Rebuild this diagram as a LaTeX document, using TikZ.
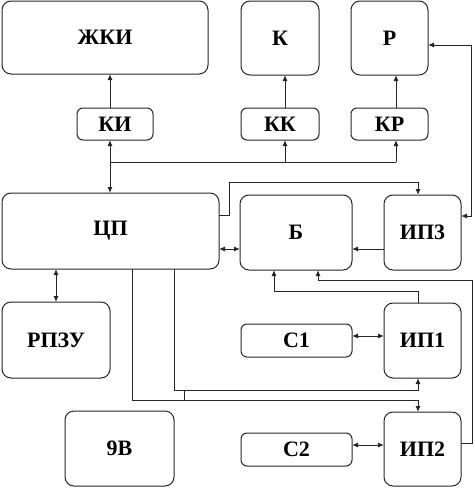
\documentclass[tikz,border=0pt]{standalone}
\usepackage{fontspec}
\setmainfont{Liberation Serif}
\usetikzlibrary{arrows.meta,calc}
\tikzset{
  box/.style={draw=black!85, line width=1pt, rounded corners=9pt, inner sep=0pt, outer sep=0pt,
    font=\fontsize{22}{22}\selectfont\bfseries},
  sbox/.style={box, rounded corners=6pt},
  conn/.style={draw=black!85, line width=1pt, -{Latex[length=6pt,width=5pt]}},
  dconn/.style={draw=black!85, line width=1pt, {Latex[length=6pt,width=5pt]}-{Latex[length=6pt,width=5pt]}},
  plain/.style={draw=black!85, line width=1pt}
}
\newcommand{\bx}[7]{%
  \node[#1, minimum width={(#5-#3)*1pt}, minimum height={(#6-#4)*1pt}] (#2) at ({(#3+#5)/2},{(#4+#6)/2}) {#7};}
\begin{document}
\begin{tikzpicture}[x=1pt,y=-1pt]
\useasboundingbox (0,0) rectangle (474,488);
\bx{box}{zki}{2}{1}{208}{74}{ЖКИ}
\bx{sbox}{ki}{77}{108}{153}{140}{КИ}
\bx{box}{k}{241}{1}{319}{75}{К}
\bx{box}{r}{351}{1}{428}{75}{Р}
\bx{sbox}{kk}{241}{108}{319}{140}{КК}
\bx{sbox}{kr}{351}{108}{428}{140}{КР}
\bx{box}{cp}{2}{193}{219}{269}{ЦП}
\bx{box}{b}{240}{195}{352}{270}{Б}
\bx{box}{ip3}{384}{195}{461}{270}{ИП3}
\bx{box}{rpzu}{2}{302}{110}{378}{РПЗУ}
\bx{sbox}{c1}{241}{324}{352}{357}{С1}
\bx{box}{ip1}{384}{303}{461}{378}{ИП1}
\bx{box}{v9}{65}{411}{174}{486}{9В}
\bx{sbox}{c2}{241}{433}{352}{466}{С2}
\bx{box}{ip2}{384}{412}{461}{486}{ИП2}

% KI - ZKI
\draw[conn] (ki.north -| 110,0) -- (zki.south -| 110,0);
\draw[dconn] (ki.south -| 110,0) -- (cp.north -| 110,0);
% bus
\coordinate (bus1) at (110,162);
\coordinate (bus2) at (285,162);
\coordinate (bus3) at (396,162);
\draw[plain] (bus1) -- (bus3);
\draw[conn] (bus2) -- (kk.south -| bus2);
\draw[conn] (bus3) -- (kr.south -| bus3);
\draw[conn] (kk.north -| bus2) -- (k.south -| bus2);
\draw[conn] (kr.north -| bus3) -- (r.south -| bus3);
% CP -> IP3
\draw[conn] (cp.east |- 0,215) -- (229,215) -- (229,182) -- (418,182) -- (ip3.north -| 418,0);
% CP <-> B, IP3 -> B
\draw[dconn] (cp.east |- 0,249) -- (b.west |- 0,249);
\draw[conn] (ip3.west |- 0,249) -- (b.east |- 0,249);
% R <-> IP3
\draw[dconn] (r.east |- 0,45) -- (471,45) -- (471,216) -- (ip3.east |- 0,216);
% IP1 -> B
\draw[conn] (ip1.north -| 418,0) -- (418,291) -- (274,291) -- (b.south -| 274,0);
% IP2 -> B
\draw[conn] (ip2.east |- 0,443) -- (472,443) -- (472,280) -- (318,280) -- (b.south -| 318,0);
% C <-> IP
\draw[dconn] (c1.east |- 0,336) -- (ip1.west |- 0,336);
\draw[dconn] (c2.east |- 0,445) -- (ip2.west |- 0,445);
% CP <-> RPZU
\draw[dconn] (cp.south -| 56,0) -- (rpzu.north -| 56,0);
% CP -> IP1, IP2
\draw[conn] (cp.south -| 132,0) -- (132,400) -- (418,400) -- (ip2.north -| 418,0);
\draw[conn] (cp.south -| 174,0) -- (174,390) -- (418,390) -- (ip1.south -| 418,0);
\coordinate (t1) at (184,390);
\coordinate (t2) at (184,400);
\draw[plain] (t1) -- (t2);
\end{tikzpicture}
\end{document}
